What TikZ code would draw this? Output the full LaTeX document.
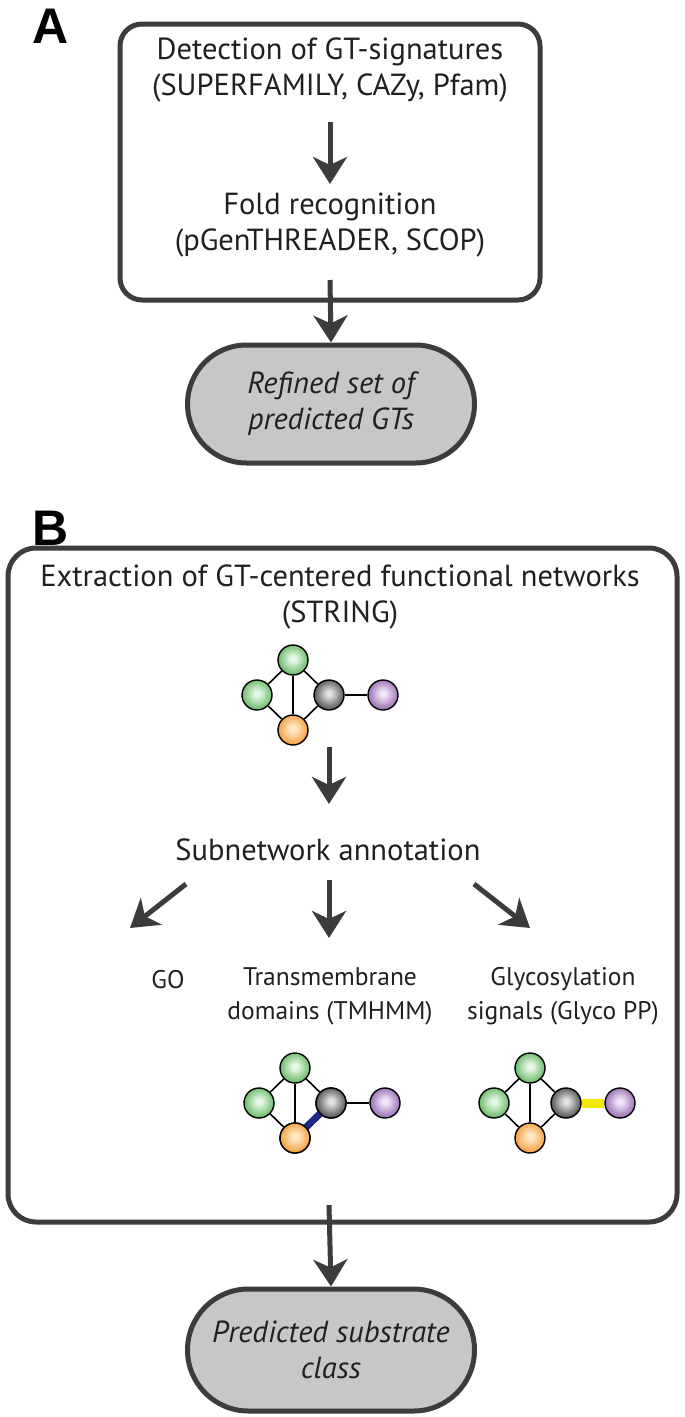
\documentclass[tikz,border=0pt]{standalone}
\usepackage{fontspec}
\setmainfont{PT Sans}
\newfontfamily\panelfont{Liberation Sans}
\usetikzlibrary{arrows.meta,shapes.misc}
\definecolor{frame}{HTML}{3C3C3E}
\definecolor{txt}{HTML}{231F20}
\definecolor{capfill}{HTML}{C6C7C9}
\definecolor{gC}{HTML}{E8F8E6}\definecolor{gO}{HTML}{45A845}
\definecolor{kC}{HTML}{E2E2E2}\definecolor{kO}{HTML}{2A2A2C}
\definecolor{pC}{HTML}{F2E6F8}\definecolor{pO}{HTML}{7F4A9E}
\definecolor{oC}{HTML}{FFEBC8}\definecolor{oO}{HTML}{F0881A}
\definecolor{tmblue}{HTML}{1E2A85}
\definecolor{gyellow}{HTML}{F5E800}
\pgfdeclareradialshading{gball}{\pgfpoint{0bp}{3bp}}{color(0bp)=(gC); color(4bp)=(gC); color(32bp)=(gO); color(50bp)=(gO)}
\pgfdeclareradialshading{kball}{\pgfpoint{0bp}{3bp}}{color(0bp)=(kC); color(4bp)=(kC); color(32bp)=(kO); color(50bp)=(kO)}
\pgfdeclareradialshading{pball}{\pgfpoint{0bp}{3bp}}{color(0bp)=(pC); color(4bp)=(pC); color(32bp)=(pO); color(50bp)=(pO)}
\pgfdeclareradialshading{oball}{\pgfpoint{0bp}{3bp}}{color(0bp)=(oC); color(4bp)=(oC); color(32bp)=(oO); color(50bp)=(oO)}
\tikzset{
  x=1pt, y=-1pt,
  every node/.style={text=txt, inner sep=0pt},
  big/.style={font=\fontsize{30.5}{36}\selectfont, align=center},
  small/.style={font=\fontsize{25.5}{34}\selectfont, align=center},
  panel/.style={font=\panelfont\bfseries\fontsize{50}{50}\selectfont, text=black},
  frame box/.style={draw=frame, line width=5pt, rounded corners=22pt},
  capsule/.style={rounded rectangle, draw=frame, fill=capfill, line width=5pt,
     minimum width=287pt, minimum height=118pt, font=\itshape\fontsize{30.5}{36}\selectfont, align=center},
  flow/.style={draw=frame, line width=5pt, -{Stealth[length=27pt, width=34pt, inset=8pt]}},
  ball/.style={circle, draw=black, line width=1.4pt, minimum size=30pt},
  gb/.style={ball, shading=gball},
  kb/.style={ball, shading=kball},
  pb/.style={ball, shading=pball},
  ob/.style={ball, shading=oball},
  link/.style={draw=black, line width=1.6pt},
}
\newcommand{\mynet}[3]{%
  \coordinate (#1c) at (#2,#3);
  \node[gb] (#1t) at (#2,#3-35) {};
  \node[gb] (#1l) at (#2-36,#3) {};
  \node[kb] (#1k) at (#2+36,#3) {};
  \node[pb] (#1p) at (#2+90,#3) {};
  \node[ob] (#1o) at (#2,#3+35) {};
}
\begin{document}
\begin{tikzpicture}
\useasboundingbox (0,0) rectangle (685,1417);

% ---------- Panel A
\node[panel] (lblA) at (51,26) {A};
\draw[frame box] (120,24) rectangle (540,300);
\node[big] (det) at (330,70) {Detection of GT-signatures\\(SUPERFAMILY, CAZy, Pfam)};
\node[big] (fold) at (330,225) {Fold recognition\\(pGenTHREADER, SCOP)};
\coordinate (a1s) at (330,122); \coordinate (a1e) at (330,184);
\draw[flow] (a1s) -- (a1e);
\node[capsule] (capA) at (331,404) {Refined set of\\predicted GTs};
\coordinate (a2s) at (330,280);
\draw[flow] (a2s) -- (capA.north);

% ---------- Panel B
\node[panel] (lblB) at (51,528) {B};
\draw[frame box, rounded corners=28pt] (8,548) rectangle (677,1222);
\node[big] (extr) at (340,597) {Extraction of GT-centered functional networks\\(STRING)};

\mynet{n1}{293}{695}
\draw[link] (n1t) -- (n1l); \draw[link] (n1t) -- (n1k); \draw[link] (n1t) -- (n1o);
\draw[link] (n1l) -- (n1o); \draw[link] (n1k) -- (n1o); \draw[link] (n1k) -- (n1p);

\coordinate (a3s) at (329,747); \coordinate (a3e) at (329,804);
\draw[flow] (a3s) -- (a3e);
\node[big] (sub) at (328,850) {Subnetwork annotation};

\coordinate (a4s) at (186,884); \coordinate (a4e) at (130,928);
\coordinate (a5s) at (329,880); \coordinate (a5e) at (329,938);
\coordinate (a6s) at (474,884); \coordinate (a6e) at (530,928);
\draw[flow] (a4s) -- (a4e);
\draw[flow] (a5s) -- (a5e);
\draw[flow] (a6s) -- (a6e);

\node[small] (go) at (168,980) {GO};
\node[small] (tm) at (330,996) {Transmembrane\\domains (TMHMM)};
\node[small] (gly) at (563,996) {Glycosylation\\signals (Glyco PP)};

\mynet{n2}{295}{1103}
\draw[link] (n2t) -- (n2l); \draw[link] (n2t) -- (n2k); \draw[link] (n2t) -- (n2o);
\draw[link] (n2l) -- (n2o); \draw[link] (n2k) -- (n2p);
\draw[draw=tmblue, line width=7pt] (n2k.center) -- (n2o.center);
\node[kb] at (n2k) {}; \node[ob] at (n2o) {};

\mynet{n3}{530}{1103}
\draw[link] (n3t) -- (n3l); \draw[link] (n3t) -- (n3k); \draw[link] (n3t) -- (n3o);
\draw[link] (n3l) -- (n3o); \draw[link] (n3k) -- (n3o);
\draw[draw=gyellow, line width=9pt] (n3k) -- (n3p);

\coordinate (a7s) at (329,1205);
\node[capsule, minimum height=122pt] (capB) at (331,1350) {Predicted substrate\\class};
\draw[flow] (a7s) -- (capB.north);
\end{tikzpicture}
\end{document}
